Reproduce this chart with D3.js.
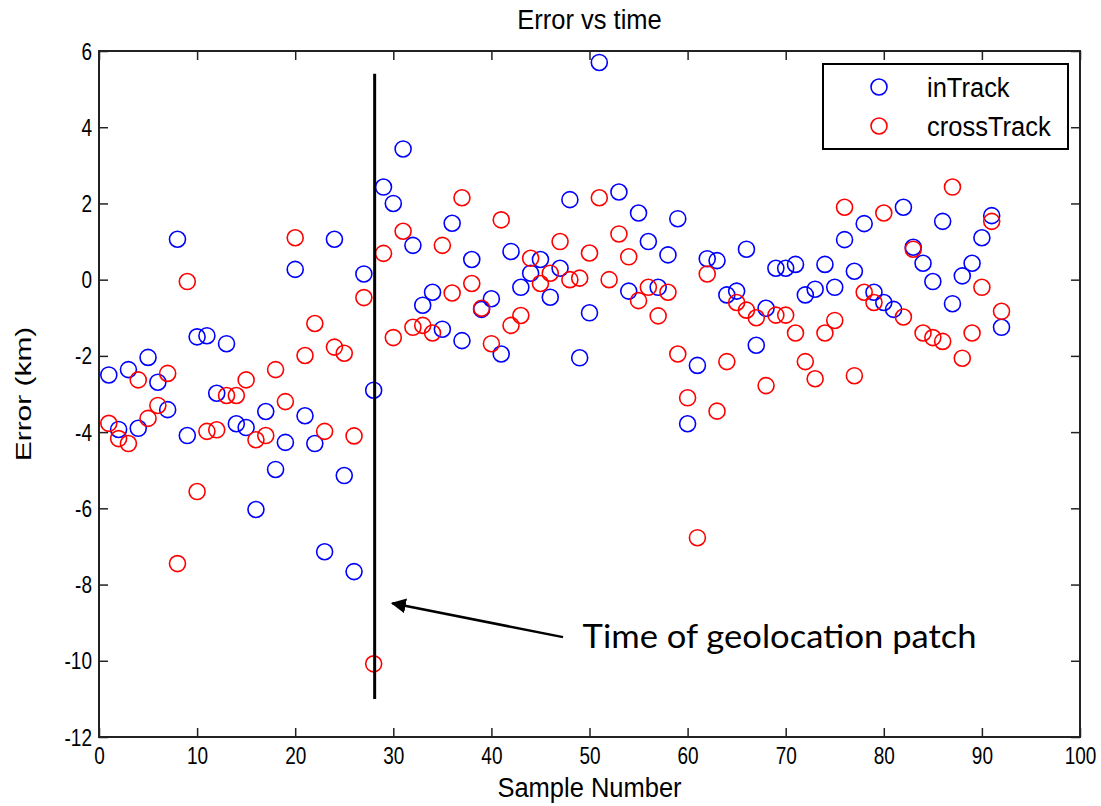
<!DOCTYPE html>
<html>
<head>
<meta charset="utf-8">
<script src="https://cdn.jsdelivr.net/npm/d3@7"></script>
<style>
  body { margin: 0; background: #fff; }
  text { font-family: "Liberation Sans", Arial, sans-serif; fill: #000; }
</style>
</head>
<body>
<script>
// values, sample number = index + 1 (null = not visible)
var inTrack = [
  -2.5, -3.93, -2.36, -3.9, -2.04, -2.69, -3.41, 1.06, -4.09, -1.5,
  -1.47, -2.98, -1.68, -3.78, -3.88, -6.03, -3.46, -4.98, -4.27, 0.27,
  -3.57, -4.3, -7.14, 1.06, -5.14, -7.66, 0.15, -2.9, 2.43, 2.0,
  3.43, 0.9, -0.67, -0.33, -1.3, 1.48, -1.6, 0.53, -0.78, -0.5,
  -1.95, 0.74, -0.2, 0.17, 0.53, -0.46, 0.3, 2.1, -2.05, -0.87,
  5.7, null, 2.3, -0.3, 1.75, 1.0, -0.2, 0.65, 1.6, -3.78,
  -2.25, 0.55, 0.5, -0.4, -0.3, 0.8, -1.72, -0.75, 0.3, 0.3,
  0.4, -0.4, -0.25, 0.4, -0.2, 1.05, 0.22, 1.47, -0.33, -0.6,
  -0.78, 1.9, 0.85, 0.43, -0.05, 1.53, -0.63, 0.1, 0.43, 1.1,
  1.68, -1.25
];
var crossTrack = [
  -3.77, -4.17, -4.3, -2.63, -3.64, -3.3, -2.46, -7.45, -0.05, -5.56,
  -3.98, -3.94, -3.04, -3.04, -2.63, -4.2, -4.09, -2.36, -3.2, 1.1,
  -1.99, -1.15, -3.98, -1.77, -1.93, -4.1, -0.47, -10.08, 0.69, -1.52,
  1.27, -1.25, -1.2, -1.4, 0.9, -0.35, 2.15, -0.1, -0.75, -1.68,
  1.57, -1.2, -0.94, 0.56, -0.1, 0.17, 1.0, 0.0, 0.04, 0.7,
  2.15, 0.0, 1.2, 0.6, -0.55, -0.2, -0.95, -0.33, -1.95, -3.1,
  -6.77, 0.15, -3.45, -2.15, -0.6, -0.8, -1.0, -2.78, -0.93, -0.93,
  -1.4, -2.15, -2.6, -1.4, -1.07, 1.9, -2.52, -0.33, -0.6, 1.75,
  null, -0.98, 0.8, -1.4, -1.52, -1.62, 2.43, -2.06, -1.4, -0.2,
  1.53, -0.83
];
var seriesNames = ["inTrack", "crossTrack"];
var seriesColors = ["#0000ff", "#ff0000"];
var xTicks = [0, 10, 20, 30, 40, 50, 60, 70, 80, 90, 100];
var yTicks = [-12, -10, -8, -6, -4, -2, 0, 2, 4, 6];

// patch marker line and annotation, in data units
var patchX = 28.1, patchTop = 5.4, patchBottom = -11;
var arrowFrom = [47.3, -9.38], arrowTo = [29.9, -8.49];
var noteAt = [49.3, -9.67];
var noteText = "Time of geolocation patch";

var W = 1101, H = 806;
var margin = {top: 51, right: 21, bottom: 69, left: 99};
var w = W - margin.left - margin.right;
var h = H - margin.top - margin.bottom;
var sy = 1.25;   // tick labels look vertically stretched
var syL = 1.06;  // titles/labels a little less

var svg = d3.select("body").append("svg")
    .attr("width", W)
    .attr("height", H);

var g = svg.append("g")
    .attr("transform", "translate(" + margin.left + "," + margin.top + ")");

var x = d3.scaleLinear().domain([0, 100]).range([0, w]);
var y = d3.scaleLinear().domain([-12, 6]).range([h, 0]);
var plain = function(d) { return String(d); }; // hyphen minus like matlab

// title and axis labels
svg.append("text")
    .attr("transform", "translate(" + (margin.left + w / 2) + ",29) scale(1," + syL + ")")
    .attr("text-anchor", "middle")
    .style("font-size", "25.5px")
    .text("Error vs time");

svg.append("text")
    .attr("transform", "translate(" + (margin.left + w / 2) + ",797) scale(1," + syL + ")")
    .attr("text-anchor", "middle")
    .style("font-size", "25.5px")
    .text("Sample Number");

svg.append("text")
    .attr("transform", "translate(31," + (margin.top + h / 2) + ") scale(1,1.36) rotate(-90)")
    .attr("text-anchor", "middle")
    .style("font-size", "22px")
    .text("Error (km)");

// axes, ticks pointing inward on all four sides
var xAxis = g.append("g")
    .attr("class", "x-axis")
    .attr("transform", "translate(0," + h + ")")
    .call(d3.axisBottom(x).tickValues(xTicks).tickFormat(plain).tickSizeInner(-9).tickSizeOuter(0));
xAxis.selectAll("text")
    .attr("y", 0).attr("dy", null)
    .attr("transform", "translate(0,27) scale(1," + sy + ")")
    .style("font-size", "19px");

var yAxis = g.append("g")
    .attr("class", "y-axis")
    .call(d3.axisLeft(y).tickValues(yTicks).tickFormat(plain).tickSizeInner(-9).tickSizeOuter(0));
yAxis.selectAll("text")
    .attr("x", 0).attr("dy", null)
    .attr("transform", "translate(-7,8) scale(1," + sy + ")")
    .style("font-size", "19px");

g.append("g")
    .call(d3.axisTop(x).tickValues(xTicks).tickSizeInner(-9).tickSizeOuter(0).tickFormat(""));
g.append("g")
    .attr("transform", "translate(" + w + ",0)")
    .call(d3.axisRight(y).tickValues(yTicks).tickSizeInner(-9).tickSizeOuter(0).tickFormat(""));

g.selectAll(".domain").remove();
g.selectAll(".tick line").attr("stroke", "#222").attr("stroke-width", 1.5);

g.append("rect")
    .attr("width", w)
    .attr("height", h)
    .attr("fill", "none")
    .attr("stroke", "#222")
    .attr("stroke-width", 2);

// data points
[inTrack, crossTrack].forEach(function(vals, k) {
  g.append("g").selectAll("circle")
    .data(vals.map(function(v, i) { return {n: i + 1, v: v}; })
              .filter(function(d) { return d.v !== null; }))
    .enter().append("circle")
      .attr("cx", function(d) { return x(d.n); })
      .attr("cy", function(d) { return y(d.v); })
      .attr("r", 8)
      .attr("fill", "none")
      .attr("stroke", seriesColors[k])
      .attr("stroke-width", 1.6);
});

// patch line
g.append("line")
    .attr("x1", x(patchX)).attr("x2", x(patchX))
    .attr("y1", y(patchTop)).attr("y2", y(patchBottom))
    .attr("stroke", "#000")
    .attr("stroke-width", 3);

// arrow + note
svg.append("defs").append("marker")
    .attr("id", "head")
    .attr("viewBox", "0 0 10 10")
    .attr("refX", 9).attr("refY", 5)
    .attr("markerWidth", 6).attr("markerHeight", 6)
    .attr("markerUnits", "strokeWidth")
    .attr("orient", "auto")
  .append("path")
    .attr("d", "M0,0 L10,5 L0,10 Z")
    .attr("fill", "#000");

g.append("line")
    .attr("x1", x(arrowFrom[0])).attr("y1", y(arrowFrom[1]))
    .attr("x2", x(arrowTo[0])).attr("y2", y(arrowTo[1]))
    .attr("stroke", "#000")
    .attr("stroke-width", 2.5)
    .attr("marker-end", "url(#head)");

g.append("text")
    .attr("x", x(noteAt[0])).attr("y", y(noteAt[1]))
    .attr("textLength", 394)
    .attr("lengthAdjust", "spacingAndGlyphs")
    .style("font-family", "Lato, 'Open Sans', sans-serif")
    .style("font-size", "33px")
    .text(noteText);

// legend
var legend = g.append("g")
    .attr("transform", "translate(" + (w - 257) + ",13)");
legend.append("rect")
    .attr("width", 245).attr("height", 85)
    .attr("fill", "#fff")
    .attr("stroke", "#000")
    .attr("stroke-width", 2);
seriesNames.forEach(function(name, k) {
  legend.append("circle")
    .attr("cx", 56).attr("cy", 23 + k * 39)
    .attr("r", 8)
    .attr("fill", "none")
    .attr("stroke", seriesColors[k])
    .attr("stroke-width", 1.6);
  legend.append("text")
    .attr("transform", "translate(104," + (33 + k * 39) + ") scale(1," + syL + ")")
    .style("font-size", "25.5px")
    .text(name);
});
</script>
</body>
</html>
